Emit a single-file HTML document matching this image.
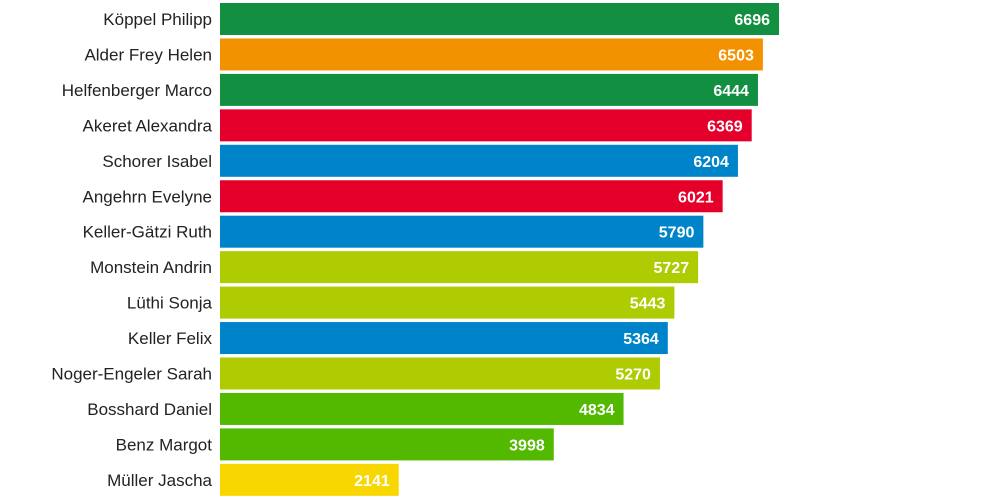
<!DOCTYPE html>
<html><head><meta charset="utf-8"><style>
body{margin:0;background:#fff;width:1000px;height:500px;overflow:hidden}
svg{display:block}
</style></head><body>
<svg id="chart" width="1000" height="500" xmlns="http://www.w3.org/2000/svg"></svg>
<script>
const names=["Köppel Philipp","Alder Frey Helen","Helfenberger Marco","Akeret Alexandra","Schorer Isabel","Angehrn Evelyne","Keller-Gätzi Ruth","Monstein Andrin","Lüthi Sonja","Keller Felix","Noger-Engeler Sarah","Bosshard Daniel","Benz Margot","Müller Jascha"];
const values=[6696,6503,6444,6369,6204,6021,5790,5727,5443,5364,5270,4834,3998,2141];
const parties=["gruene","sp","gruene","svp","fdp","svp","fdp","glp","glp","fdp","glp","mitte","mitte","edu"];
const colors={gruene:"#138f42",sp:"#f39200",svp:"#e4002b",fdp:"#0084c9",glp:"#afcb02",mitte:"#52b900",edu:"#f8d700"};
const svg=document.getElementById('chart');
const NS="http://www.w3.org/2000/svg";
const x0=220, k=559/6696, y0=3, step=35.45, bh=32;
const xs=v=>v*k;
names.forEach((n,i)=>{
  const y=y0+i*step;
  const g=document.createElementNS(NS,'g');
  
  
  const t=document.createElementNS(NS,'text');
  
  
  t.setAttribute('x',212);t.setAttribute('y',y+bh/2+6);
  t.setAttribute('text-anchor','end');
  t.setAttribute('font-family','Liberation Sans, sans-serif');
  t.setAttribute('font-size','17');t.setAttribute('fill','#222');
  t.textContent=n;g.appendChild(t);
  const r=document.createElementNS(NS,'rect');
  
  
  r.setAttribute('x',x0);r.setAttribute('y',y);
  r.setAttribute('width',xs(values[i]));r.setAttribute('height',bh);
  r.setAttribute('fill',colors[parties[i]]);g.appendChild(r);
  const v=document.createElementNS(NS,'text');
  
  
  v.setAttribute('x',x0+xs(values[i])-9);v.setAttribute('y',y+bh/2+6);
  v.setAttribute('text-anchor','end');
  v.setAttribute('font-family','Liberation Sans, sans-serif');
  v.setAttribute('font-size','16');v.setAttribute('font-weight','bold');v.setAttribute('fill','#fff');
  v.textContent=values[i];g.appendChild(v);
  svg.appendChild(g);
});
</script>
</body></html>
